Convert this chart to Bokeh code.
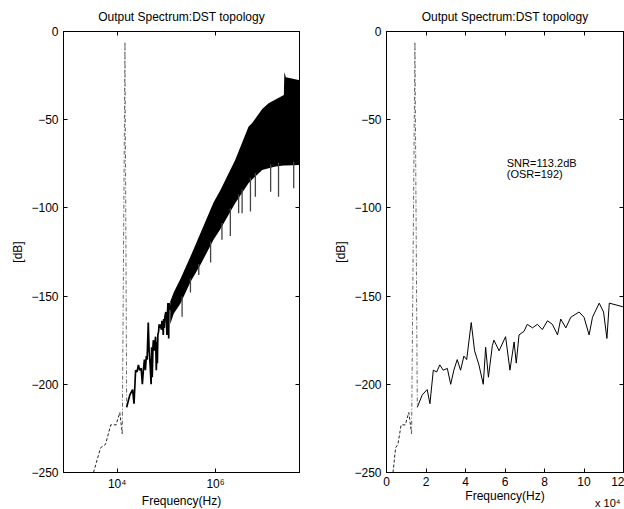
import numpy as np
from bokeh.plotting import figure
from bokeh.layouts import row
from bokeh.models import (Range1d, FixedTicker, CustomJSTickFormatter, LinearAxis,
                          LogAxis, Label, Title)
from bokeh.embed import file_html
from bokeh.resources import INLINE

FONT = "Liberation Sans"
TITLE = "Output Spectrum:DST topology"
Y_LABEL = "[dB]"
X_LABEL = "Frequency(Hz)"

y_ticks = [-250, -200, -150, -100, -50, 0]
left_x_ticks = [1e4, 1e6]
right_x_ticks = [0, 2e4, 4e4, 6e4, 8e4, 10e4, 12e4]

# low-frequency part below the tone (Hz, dB)
pre_hz = [3300, 4600, 5800, 7400, 9500, 11300, 12700]
pre_db = [-250, -236, -234, -223, -223, -216, -228]

# signal tone
tone_hz = [12700, 14400, 15600]
tone_db = [-228, -6, -213]

# in-band noise trace (Hz, dB)
noise_hz = [15600, 18100, 20600, 22000, 23700, 25400, 27000, 28700, 30800, 32500,
            34100, 35800, 37500, 39200, 40600, 42900, 44600, 46800, 49000, 50200,
            51600, 53600, 54400, 57000, 60300, 62500, 64600, 65700, 67100, 69600,
            71300, 73900, 76400, 78900, 81500, 84000, 86600, 88200, 90800, 93300,
            97500, 100000, 102600, 104300, 107700, 109900, 111600, 112800, 116200,
            119600, 122000]
noise_db = [-213, -206, -203, -211, -192, -193, -189, -192, -191, -200,
            -192, -186, -192, -184, -186, -165, -181, -189, -200, -179,
            -196, -178, -175, -181, -173, -192, -176, -188, -172, -170,
            -166, -168, -166, -169, -164, -166, -172, -163, -168, -162,
            -159, -162, -172, -162, -154, -159, -174, -154, -155, -156, -158]

# out-of-band noise envelope (Hz, upper dB, lower dB)
band_hz = [1.2e5, 1.41e5, 1.95e5, 3.09e5, 5.0e5, 9.1e5, 1.26e6, 2.51e6, 4.68e6,
           5.5e6, 8.9e6, 1.2e7, 1.66e7, 2.45e7, 2.51e7, 2.69e7, 4.9e7, 5.2e7]
band_hi = [-153, -148, -140, -127.6, -114, -97, -89.9, -72.8, -54,
           -52, -44, -40.7, -38.5, -36, -23, -26, -27.5, -27.5]
band_lo = [-166, -160, -154, -142, -132, -118, -112, -97.4, -86,
           -84, -78.5, -77.5, -76.6, -76, -76, -76, -75.7, -75.7]

# deep notches below the noise band (Hz, dB)
spike_hz = [2.09e5, 3.09e5, 4.57e5, 7.94e5, 1.35e6, 2.0e6, 2.95e6, 3.47e6, 5.13e6,
            6.46e6, 1.32e7, 1.91e7, 3.89e7]
spike_db = [-161.7, -148, -138, -131, -118, -116, -103, -103, -102,
            -93.7, -90.8, -93.7, -88.9]

snr_lines = ["SNR=113.2dB", "(OSR=192)"]
snr_x = 6.09e4
snr_y = [-74.7, -80.6]
exp_text = "x 10\u2074"

Y_FMT = CustomJSTickFormatter(code="return tick < 0 ? '\\u2212' + Math.abs(tick) : String(tick);")


def style(p):
    p.grid.visible = False
    p.outline_line_color = "black"
    p.outline_line_width = 1
    p.title.text_font = FONT
    p.title.text_font_size = "12px"
    p.title.text_font_style = "normal"
    p.title.align = "center"
    p.title.text_color = "black"
    p.title.standoff = 15
    for ax in p.axis:
        ax.axis_line_color = "black"
        ax.major_tick_line_color = "black"
        ax.major_tick_in = 4
        ax.major_tick_out = 0
        ax.minor_tick_line_color = None
        ax.major_label_text_font = FONT
        ax.major_label_text_font_size = "12px"
        ax.major_label_text_color = "black"
        ax.axis_label_text_font = FONT
        ax.axis_label_text_font_size = "12px"
        ax.axis_label_text_font_style = "normal"
        ax.axis_label_text_color = "black"
    p.yaxis.major_label_standoff = 5
    p.xaxis.major_label_standoff = 4
    p.yaxis.ticker = FixedTicker(ticks=y_ticks)
    p.yaxis.formatter = Y_FMT
    p.yaxis.axis_label = Y_LABEL
    p.yaxis.axis_label_standoff = 3
    p.xaxis.axis_label = X_LABEL
    p.xaxis.axis_label_standoff = 0


def add_box_ticks(p, xticks, log=False):
    empty = CustomJSTickFormatter(code="return '';")
    top = LogAxis() if log else LinearAxis()
    top.ticker = FixedTicker(ticks=xticks)
    right = LinearAxis()
    right.ticker = FixedTicker(ticks=y_ticks)
    for ax in (top, right):
        ax.formatter = empty
        ax.major_tick_in = 4
        ax.major_tick_out = 0
        ax.minor_tick_line_color = None
        ax.major_label_standoff = 0
        ax.major_label_text_font_size = "1px"
        ax.axis_line_color = "black"
        ax.major_tick_line_color = "black"
    p.add_layout(top, "above")
    p.add_layout(right, "right")


# ---------------- left: log frequency ----------------
p1 = figure(x_axis_type="log", x_range=Range1d(810, 5.1e7), y_range=Range1d(-250, 0),
            frame_width=236, frame_height=441, min_border_left=63, min_border_right=31,
            min_border_top=31, min_border_bottom=37, title=TITLE,
            output_backend="svg", toolbar_location=None)
style(p1)
p1.xaxis.ticker = FixedTicker(ticks=left_x_ticks)
p1.xaxis.formatter = CustomJSTickFormatter(code="""
const e = Math.round(Math.log10(tick));
const s = {'4': '\\u2074', '6': '\\u2076', '2': '\\u00b2', '8': '\\u2078'};
return '10' + (s[String(e)] || String(e));
""")
add_box_ticks(p1, left_x_ticks, log=True)

p1.line(pre_hz, pre_db, color="#222222", line_width=1, line_dash="3 2")
p1.line(tone_hz, tone_db, color="#666666", line_width=1, line_dash="4 2 1 2")
p1.line(noise_hz, noise_db, color="black", line_width=1.7)
p1.varea(x=band_hz, y1=band_lo, y2=band_hi, fill_color="black")
spike_top = np.interp(np.log10(spike_hz), np.log10(band_hz), band_lo) + 2
p1.segment(x0=spike_hz, y0=spike_top, x1=spike_hz, y1=spike_db,
           color="#444444", line_width=1.3)

# ---------------- right: linear frequency ----------------
p2 = figure(x_range=Range1d(0, 1.2e5), y_range=Range1d(-250, 0),
            frame_width=237, frame_height=441, min_border_left=56, min_border_right=1,
            min_border_top=31, min_border_bottom=37, title=TITLE,
            output_backend="svg", toolbar_location=None)
style(p2)
p2.xaxis.ticker = FixedTicker(ticks=right_x_ticks)
p2.xaxis.formatter = CustomJSTickFormatter(code="return (tick / 1e4).toFixed(0);")
add_box_ticks(p2, right_x_ticks)

p2.line(pre_hz, pre_db, color="#222222", line_width=1, line_dash="3 2")
p2.line(tone_hz, tone_db, color="#666666", line_width=1, line_dash="4 2 1 2")
p2.line(noise_hz, noise_db, color="black", line_width=1)

for txt, yy in zip(snr_lines, snr_y):
    p2.add_layout(Label(x=snr_x, y=yy, text=txt, text_font=FONT, text_font_size="11px",
                        text_baseline="middle", text_color="black"))

exp_title = Title(text=exp_text, align="right", vertical_align="top", standoff=-18,
                  offset=3, text_font=FONT, text_font_size="11px",
                  text_font_style="normal", text_color="black")
p2.add_layout(exp_title, "below")

layout = row(p1, p2)
open("out.html", "w").write(file_html(layout, INLINE))
